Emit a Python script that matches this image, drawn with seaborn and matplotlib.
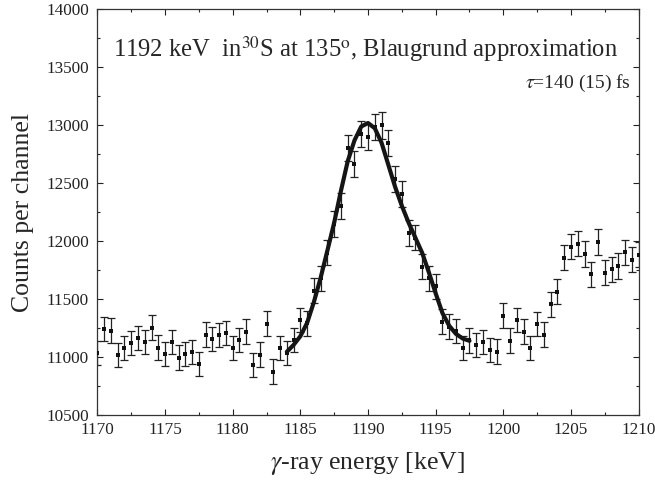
import numpy as np
import pandas as pd
import matplotlib
matplotlib.use("Agg")
import matplotlib.pyplot as plt
from matplotlib.ticker import MultipleLocator
import seaborn as sns

# ---- data ----
energy = [1170.0, 1170.5, 1171.0, 1171.5, 1172.0, 1172.5, 1173.0, 1173.5, 1174.0, 1174.5,
          1175.0, 1175.5, 1176.0, 1176.5, 1177.0, 1177.5, 1178.0, 1178.5, 1179.0, 1179.5,
          1180.0, 1180.5, 1181.0, 1181.5, 1182.0, 1182.5, 1183.0, 1183.5, 1184.0, 1184.5,
          1185.0, 1185.5, 1186.0, 1186.5, 1187.0, 1187.5, 1188.0, 1188.5, 1189.0, 1189.5,
          1190.0, 1190.5, 1191.0, 1191.5, 1192.0, 1192.5, 1193.0, 1193.5, 1194.0, 1194.5,
          1195.0, 1195.5, 1196.0, 1196.5, 1197.0, 1197.5, 1198.0, 1198.5, 1199.0, 1199.5,
          1200.0, 1200.5, 1201.0, 1201.5, 1202.0, 1202.5, 1203.0, 1203.5, 1204.0, 1204.5,
          1205.0, 1205.5, 1206.0, 1206.5, 1207.0, 1207.5, 1208.0, 1208.5, 1209.0, 1209.5,
          1210.0]
counts = [11036, 11241, 11229, 11016, 11079, 11122, 11163, 11131, 11255, 11082,
          11025, 11128, 10996, 11025, 11042, 10939, 11194, 11157, 11189, 11206,
          11077, 11146, 11220, 10930, 11022, 11289, 10875, 11077, 11034, 11148,
          11321, 11292, 11571, 11681, 11902, 12147, 12305, 12802, 12667, 12926,
          12897, 12986, 13000, 12848, 12535, 12408, 12069, 12031, 11781, 11681,
          11610, 11306, 11263, 11225, 11080, 11145, 11105, 11129, 11062, 11047,
          11358, 11142, 11321, 11220, 11077, 11284, 11194, 11456, 11563, 11859,
          11954, 11977, 11890, 11715, 11994, 11729, 11758, 11787, 11905, 11839,
          11882]
errors = [105, 106, 106, 105, 105, 105, 106, 106, 106, 105,
          105, 105, 105, 105, 105, 105, 106, 106, 106, 106,
          105, 106, 106, 105, 105, 106, 104, 105, 105, 106,
          106, 106, 108, 108, 109, 110, 111, 113, 113, 114,
          114, 114, 114, 113, 112, 111, 110, 110, 109, 108,
          108, 106, 106, 106, 105, 106, 105, 106, 105, 105,
          107, 106, 106, 106, 105, 106, 106, 107, 108, 109,
          109, 109, 109, 108, 110, 108, 108, 109, 109, 109,
          109]

fit_energy = [1184.0, 1184.5, 1185.0, 1185.5, 1186.0, 1186.5, 1187.0, 1187.5, 1188.0, 1188.5,
              1189.0, 1189.5, 1190.0, 1190.5, 1191.0, 1191.5, 1192.0, 1192.5, 1193.0, 1193.5,
              1194.0, 1194.5, 1195.0, 1195.5, 1196.0, 1196.5, 1197.0, 1197.5]
fit_counts = [11045, 11105, 11180, 11295, 11475, 11685, 11920, 12160, 12435, 12690,
              12870, 12990, 13020, 12975, 12850, 12660, 12470, 12305, 12160, 12030,
              11900, 11730, 11550, 11380, 11270, 11200, 11160, 11140]

x_ticks = [1170, 1175, 1180, 1185, 1190, 1195, 1200, 1205, 1210]
y_ticks = [10500, 11000, 11500, 12000, 12500, 13000, 13500, 14000]

title_text = r"1192 keV  in$^{30}$S at 135$^{\mathrm{o}}$, Blaugrund approximation"
tau_text = r"$\tau$=140 (15) fs"
x_label = r"$\gamma$-ray energy [keV]"
y_label = "Counts per channel"

# ---- styling ----
sns.set_theme(style="ticks")
plt.rcParams["font.family"] = ["Liberation Serif", "DejaVu Serif"]
plt.rcParams["mathtext.fontset"] = "stix"

df = pd.DataFrame({"energy": energy, "counts": counts, "err": errors})
fit_df = pd.DataFrame({"energy": fit_energy, "counts": fit_counts})

fig = plt.figure(figsize=(6.55, 4.84), dpi=100)
ax = fig.add_axes([0.1487, 0.1426, 0.8263, 0.8378])

ax.errorbar(df["energy"], df["counts"], yerr=df["err"], fmt="none",
            ecolor="#222222", elinewidth=0.9, capsize=2.8, capthick=0.9, zorder=2)
sns.scatterplot(data=df, x="energy", y="counts", ax=ax, color="#111111",
                marker="s", s=5, linewidth=0, zorder=3)
sns.lineplot(data=fit_df, x="energy", y="counts", ax=ax, color="#151515",
             linewidth=3.0, zorder=4)

ax.set_xlim(1170, 1210)
ax.set_ylim(10500, 14000)
ax.set_xticks(x_ticks)
ax.set_yticks(y_ticks)
ax.xaxis.set_minor_locator(MultipleLocator(2.5))
ax.yaxis.set_minor_locator(MultipleLocator(250))
ax.tick_params(which="both", direction="in", top=True, right=True,
               labelsize=12.3, colors="#222222", width=0.8)
ax.tick_params(which="major", length=4)
ax.tick_params(which="minor", length=2.5)
ax.tick_params(axis="x", pad=5)
ax.tick_params(axis="y", pad=6)
for sp in ax.spines.values():
    sp.set_linewidth(0.9)
    sp.set_color("#333333")

ax.set_xlabel(x_label, fontsize=18.5, labelpad=9)
ax.set_ylabel(y_label, fontsize=18.5, labelpad=9)

ax.text(0.495, 0.883, title_text, transform=ax.transAxes, fontsize=17.7,
        ha="center", va="baseline")
ax.text(0.985, 0.806, tau_text, transform=ax.transAxes, fontsize=14,
        ha="right", va="baseline")

fig.savefig("out.png", dpi=100)
